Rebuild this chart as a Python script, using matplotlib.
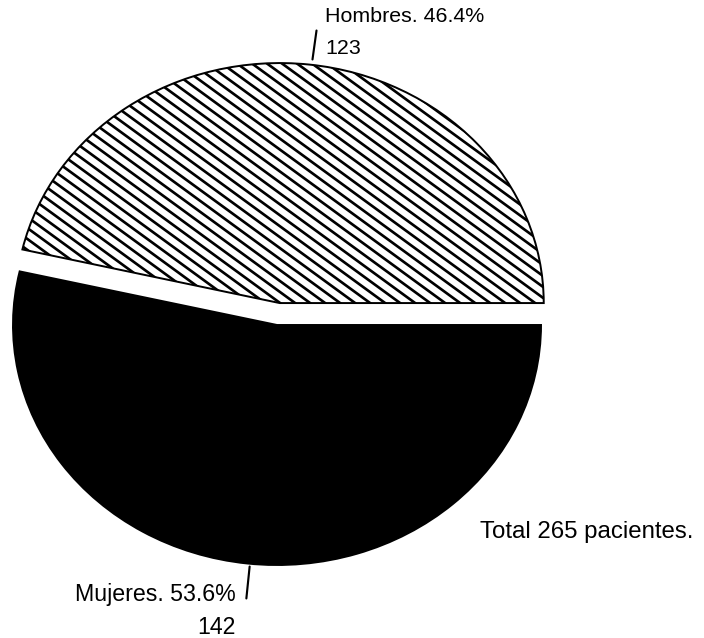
import numpy as np
import matplotlib.pyplot as plt
from matplotlib.collections import LineCollection
from matplotlib.transforms import IdentityTransform

# data
labels = ['Hombres', 'Mujeres']
counts = [123, 142]
percents = [46.4, 53.6]
total = 265
explode = [0.092, 0.0]

plt.rcParams['font.family'] = ['Liberation Sans', 'DejaVu Sans']

DPI = 128
W, H = 704, 638
fig = plt.figure(figsize=(W / DPI, H / DPI), dpi=DPI)
ax = fig.add_axes([0, 0, 1, 1])

wedges, _ = ax.pie(counts, explode=explode, startangle=0, counterclock=True,
                   colors=['white', 'black'],
                   wedgeprops=dict(edgecolor='black', linewidth=1.1))

# pie is squashed vertically in the original (ellipse)
ax.set_aspect('auto')
ax.set_xlim(-277 / 264, (W - 277) / 264)
ax.set_ylim(-(H - 325) / 240, 325 / 240)
ax.axis('off')

# hand-drawn style hatching (about 36 deg, ~15 px apart), clipped to the Hombres wedge
slope = 0.73
step = 15
segs = []
for x0 in np.arange(-600, W + 600, step):
    segs.append([(x0, H), (x0 + H / slope, 0)])
hatch = LineCollection(segs, colors='black', linewidths=1.5, transform=IdentityTransform())
ax.add_collection(hatch)
hatch.set_clip_path(wedges[0])
wedges[0].set_zorder(3)
wedges[0].set_facecolor('none')
hatch.set_zorder(2)

# Hombres label
fig.text(325 / W, 1 - 16 / H, f'{labels[0]}. {percents[0]}%', fontsize=12, va='center', ha='left')
fig.text(325 / W, 1 - 48 / H, f'{counts[0]}', fontsize=12, va='center', ha='left')
ax.annotate('', xy=(312, H - 63), xytext=(317, H - 27), xycoords='figure pixels',
            textcoords='figure pixels', arrowprops=dict(arrowstyle='-', lw=1.2, color='black'))

# Mujeres label
fig.text(236 / W, 1 - 594 / H, f'{labels[1]}. {percents[1]}%', fontsize=13, va='center', ha='right')
fig.text(236 / W, 1 - 627 / H, f'{counts[1]}', fontsize=13, va='center', ha='right')
ax.annotate('', xy=(250, H - 563), xytext=(246, H - 602), xycoords='figure pixels',
            textcoords='figure pixels', arrowprops=dict(arrowstyle='-', lw=1.2, color='black'))

fig.text(480 / W, 1 - 532 / H, f'Total {total} pacientes.', fontsize=13.5, va='center', ha='left')

fig.savefig('out.png', dpi=DPI, facecolor='white')
